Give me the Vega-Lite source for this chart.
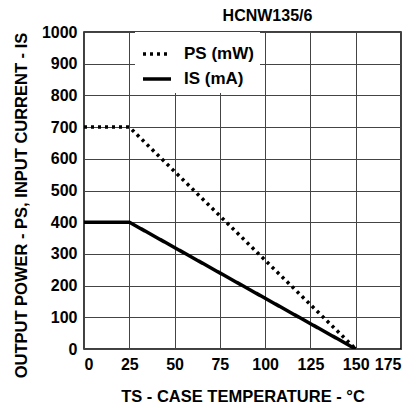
{
  "$schema": "https://vega.github.io/schema/vega-lite/v6.json",
  "width": 317,
  "height": 317,
  "autosize": "none",
  "padding": {"left": 84, "top": 32, "right": 17, "bottom": 59},
  "background": "white",
  "title": {"text": "HCNW135/6", "fontSize": 16, "font": "Liberation Sans", "fontWeight": "bold", "color": "black", "dx": 25, "offset": 0},
  "data": {"values": [
    {"series": "PS (mW)", "t": 0, "v": 700},
    {"series": "PS (mW)", "t": 25, "v": 700},
    {"series": "PS (mW)", "t": 150, "v": 0},
    {"series": "IS (mA)", "t": 0, "v": 400},
    {"series": "IS (mA)", "t": 25, "v": 400},
    {"series": "IS (mA)", "t": 150, "v": 0}
  ]},
  "mark": {"type": "line", "color": "black", "strokeWidth": 3.5, "clip": true},
  "encoding": {
    "x": {"field": "t", "type": "quantitative",
      "scale": {"domain": [0, 175], "nice": false},
      "axis": {"values": [0, 25, 50, 75, 100, 125, 150, 175], "format": "d", "title": "TS -  CASE TEMPERATURE -  °C", "titlePadding": 16}},
    "y": {"field": "v", "type": "quantitative",
      "scale": {"domain": [0, 1000], "nice": false},
      "axis": {"values": [0, 100, 200, 300, 400, 500, 600, 700, 800, 900, 1000], "format": "d", "title": "OUTPUT POWER -  PS, INPUT CURRENT -  IS", "titlePadding": 12, "titleY": 173}},
    "strokeDash": {"field": "series", "type": "nominal",
      "scale": {"domain": ["PS (mW)", "IS (mA)"], "range": [[3, 4], [1, 0]]},
      "legend": {"title": null, "orient": "none", "legendX": 51, "legendY": 0,
        "fillColor": "white", "padding": 6, "rowPadding": 1,
        "symbolType": "stroke", "symbolSize": 784, "symbolStrokeWidth": 3.5, "symbolStrokeColor": "black",
        "labelFontSize": 17, "labelFont": "Liberation Sans", "labelFontWeight": "bold", "labelColor": "black", "labelOffset": 11}}
  },
  "config": {
    "view": {"stroke": "black", "strokeWidth": 1.5},
    "axis": {
      "grid": true, "gridColor": "#444", "gridWidth": 1, "gridOpacity": 1,
      "domain": false, "ticks": false, "labelPadding": 7,
      "labelFont": "Liberation Sans", "labelFontSize": 16, "labelFontWeight": "bold", "labelColor": "black",
      "titleFont": "Liberation Sans", "titleFontSize": 16.5, "titleFontWeight": "bold", "titleColor": "black"
    }
  }
}
